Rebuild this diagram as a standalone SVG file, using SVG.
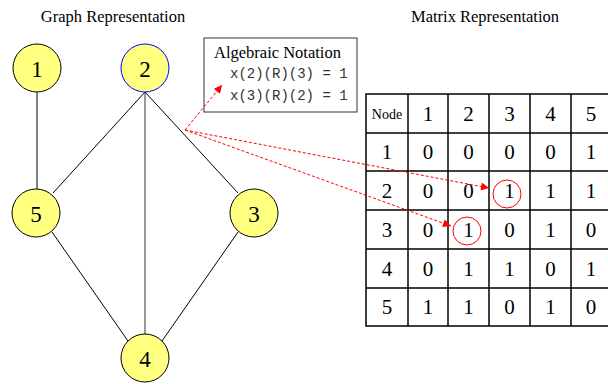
<svg xmlns="http://www.w3.org/2000/svg" width="608" height="384" viewBox="0 0 608 384">
<style>
.t{font-family:"Liberation Serif",serif;fill:#000}
.title{font-size:16.5px;text-anchor:middle}
.lbl{font-size:23px;text-anchor:middle;dominant-baseline:central}
.cell{font-size:21px;text-anchor:middle;dominant-baseline:central}
.mono{font-family:"Liberation Mono",monospace;font-size:14px;fill:#333}
.node{fill:#ffff80;stroke:#000;stroke-width:1}
.edge{stroke:#000;stroke-width:1;fill:none}
.grid{stroke:#000;stroke-width:1.5;fill:none}
.red{stroke:#ff0000;stroke-width:1;stroke-dasharray:3,2;fill:none}
</style>
<defs>
<marker id="ah" viewBox="0 0 10 10" refX="10" refY="5" markerWidth="10" markerHeight="8" markerUnits="userSpaceOnUse" orient="auto">
<path d="M0,0 L10,5 L0,10 z" fill="#ff0000"/>
</marker>
</defs>
<rect width="608" height="384" fill="#fff"/>
<text class="t title" x="113" y="22">Graph Representation</text>
<text class="t title" x="485" y="22">Matrix Representation</text>
<g id="algebra">
<rect x="204" y="38" width="153" height="74" fill="#fff" stroke="#333" stroke-width="1"/>
<text class="t" x="214" y="58" font-size="16.5">Algebraic Notation</text>
<text class="mono" x="230" y="78">x(2)(R)(3) = 1</text>
<text class="mono" x="230" y="100">x(3)(R)(2) = 1</text>
</g>
<g id="matrix">
<rect class="grid" x="366" y="94" width="250" height="232"/>
<line class="grid" x1="408" y1="94" x2="408" y2="326"/>
<line class="grid" x1="448" y1="94" x2="448" y2="326"/>
<line class="grid" x1="489" y1="94" x2="489" y2="326"/>
<line class="grid" x1="530" y1="94" x2="530" y2="326"/>
<line class="grid" x1="571" y1="94" x2="571" y2="326"/>
<line class="grid" x1="366" y1="133" x2="616" y2="133"/>
<line class="grid" x1="366" y1="171" x2="616" y2="171"/>
<line class="grid" x1="366" y1="210" x2="616" y2="210"/>
<line class="grid" x1="366" y1="249" x2="616" y2="249"/>
<line class="grid" x1="366" y1="288" x2="616" y2="288"/>
<text class="t" x="387" y="114" font-size="14" text-anchor="middle" dominant-baseline="central">Node</text>
<g class="t cell">
<text x="428" y="114">1</text><text x="468.5" y="114">2</text><text x="509.5" y="114">3</text><text x="550.5" y="114">4</text><text x="591" y="114">5</text>
<text x="387" y="152">1</text><text x="428" y="152">0</text><text x="468.5" y="152">0</text><text x="509.5" y="152">0</text><text x="550.5" y="152">0</text><text x="591" y="152">1</text>
<text x="387" y="191">2</text><text x="428" y="191">0</text><text x="468.5" y="191">0</text><text x="509.5" y="191">1</text><text x="550.5" y="191">1</text><text x="591" y="191">1</text>
<text x="387" y="230">3</text><text x="428" y="230">0</text><text x="468.5" y="230">1</text><text x="509.5" y="230">0</text><text x="550.5" y="230">1</text><text x="591" y="230">0</text>
<text x="387" y="269">4</text><text x="428" y="269">0</text><text x="468.5" y="269">1</text><text x="509.5" y="269">1</text><text x="550.5" y="269">0</text><text x="591" y="269">1</text>
<text x="387" y="307">5</text><text x="428" y="307">1</text><text x="468.5" y="307">1</text><text x="509.5" y="307">0</text><text x="550.5" y="307">1</text><text x="591" y="307">0</text>
</g>
<circle cx="507" cy="194" r="14" fill="none" stroke="#ff0000" stroke-width="1"/>
<circle cx="467" cy="231" r="14" fill="none" stroke="#ff0000" stroke-width="1"/>
</g>
<g id="connectors">
<line class="edge" x1="37" y1="92" x2="37" y2="189"/>
<line class="edge" x1="145" y1="92" x2="53" y2="193"/>
<line class="edge" x1="145" y1="92" x2="145" y2="334" stroke-width="1.5" style="stroke:#333"/>
<line class="edge" x1="145" y1="92" x2="238" y2="193"/>
<line class="edge" x1="52" y1="232" x2="128" y2="341"/>
<line class="edge" x1="238" y1="232" x2="162" y2="341"/>
<line class="red" x1="185" y1="130" x2="222" y2="85" marker-end="url(#ah)"/>
<line class="red" x1="185" y1="130" x2="489" y2="188" marker-end="url(#ah)"/>
<line class="red" x1="185" y1="130" x2="451" y2="226" marker-end="url(#ah)"/>
</g>
<g id="n1"><circle class="node" cx="37" cy="68" r="24"/><text class="t lbl" x="37" y="69">1</text></g>
<g id="n2"><circle class="node" cx="145" cy="68" r="24" style="stroke:#0000ff"/><text class="t lbl" x="145" y="69">2</text></g>
<g id="n5"><circle class="node" cx="36" cy="213" r="24"/><text class="t lbl" x="36" y="214">5</text></g>
<g id="n3"><circle class="node" cx="254" cy="213" r="24"/><text class="t lbl" x="254" y="214">3</text></g>
<g id="n4"><circle class="node" cx="145" cy="358" r="24"/><text class="t lbl" x="145" y="359">4</text></g>
</svg>
